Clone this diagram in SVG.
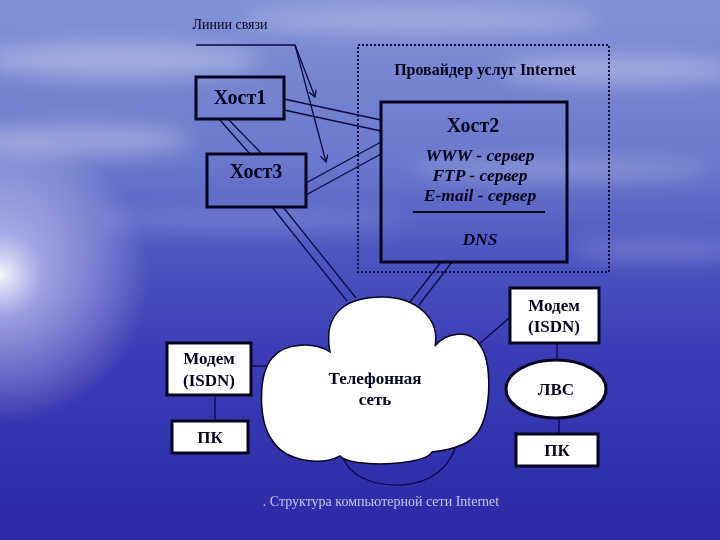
<svg xmlns="http://www.w3.org/2000/svg" width="720" height="540" viewBox="0 0 720 540">
<defs>
<linearGradient id="bg" x1="0" y1="0" x2="0" y2="1">
<stop offset="0" stop-color="#8391d6"/>
<stop offset="0.3" stop-color="#6b78cc"/>
<stop offset="0.48" stop-color="#4c54c0"/>
<stop offset="0.65" stop-color="#3c3db6"/>
<stop offset="1" stop-color="#2b29a6"/>
</linearGradient>
<radialGradient id="glow" cx="0" cy="275" r="150" gradientUnits="userSpaceOnUse">
<stop offset="0" stop-color="#ffffff" stop-opacity="0.95"/>
<stop offset="0.3" stop-color="#dfe3ff" stop-opacity="0.55"/>
<stop offset="1" stop-color="#ffffff" stop-opacity="0"/>
</radialGradient>
<filter id="blur" x="-20%" y="-50%" width="140%" height="200%"><feGaussianBlur stdDeviation="10"/></filter>
<filter id="soft"><feGaussianBlur stdDeviation="0.6"/></filter>
<marker id="arr" markerWidth="8" markerHeight="8" refX="7" refY="4" orient="auto" markerUnits="userSpaceOnUse">
<path d="M0,0 L7,4 L0,8" fill="none" stroke="#0a0a40" stroke-width="1.3"/>
</marker>
<style>
.t{font-family:"Liberation Serif","Times New Roman",serif;fill:#050520;text-anchor:middle}
.b{font-weight:bold}
.bi{font-weight:bold;font-style:italic}
.box{fill:none;stroke:#050520;stroke-width:3}
.wbox{fill:#ffffff;stroke:#050520;stroke-width:3}
.ln{stroke:#0a0a40;stroke-width:1.3;fill:none}
</style>
</defs>

<!-- background -->
<rect width="720" height="540" fill="url(#bg)"/>
<g filter="url(#blur)" fill="#ffffff">
<ellipse cx="120" cy="60" rx="140" ry="18" opacity="0.3"/>
<ellipse cx="420" cy="20" rx="180" ry="14" opacity="0.25"/>
<ellipse cx="620" cy="70" rx="120" ry="14" opacity="0.3"/>
<ellipse cx="80" cy="140" rx="110" ry="16" opacity="0.3"/>
<ellipse cx="560" cy="170" rx="150" ry="12" opacity="0.2"/>
<ellipse cx="250" cy="220" rx="160" ry="10" opacity="0.15"/>
<ellipse cx="660" cy="250" rx="90" ry="10" opacity="0.2"/>
</g>
<rect width="720" height="540" fill="url(#glow)"/>

<!-- connectors -->
<g id="connectors">
<polyline class="ln" points="196,45 295,45 315,97" marker-end="url(#arr)"/>
<line class="ln" x1="295" y1="45" x2="326" y2="162" marker-end="url(#arr)"/>
<line class="ln" x1="284" y1="99" x2="381" y2="120"/>
<line class="ln" x1="284" y1="110" x2="381" y2="131"/>
<line class="ln" x1="306" y1="183" x2="381" y2="142"/>
<line class="ln" x1="306" y1="195" x2="381" y2="154"/>
<line class="ln" x1="219" y1="119" x2="250" y2="154"/>
<line class="ln" x1="228" y1="119" x2="262" y2="154"/>
<line class="ln" x1="272" y1="207" x2="347" y2="301"/>
<line class="ln" x1="283" y1="207" x2="356" y2="298"/>
<line class="ln" x1="441" y1="262" x2="410" y2="302"/>
<line class="ln" x1="452" y1="262" x2="419" y2="305"/>
<line class="ln" x1="251" y1="366" x2="266" y2="366"/>
<line class="ln" x1="215" y1="395" x2="215" y2="421"/>
<line class="ln" x1="509" y1="318" x2="478" y2="345"/>
<line class="ln" x1="557" y1="343" x2="557" y2="360"/>
<line class="ln" x1="559" y1="419" x2="559" y2="434"/>
<path class="ln" d="M342,455 C350,480 380,486 402,485 C430,483 452,468 457,440"/>
</g>

<text class="t" x="230" y="29" font-size="14" fill="#101040">Линии связи</text>

<g id="provider">
<rect x="358" y="45" width="251" height="227" fill="none" stroke="#101040" stroke-width="2" stroke-dasharray="2,2"/>
<text class="t b" x="485" y="75" font-size="16">Провайдер услуг Internet</text>
</g>

<g id="host1">
<rect class="box" x="196" y="77" width="88" height="42"/>
<text class="t b" x="240" y="104" font-size="20">Хост1</text>
</g>

<g id="host3">
<rect class="box" x="207" y="154" width="99" height="53"/>
<text class="t b" x="256" y="178" font-size="20">Хост3</text>
</g>

<g id="host2">
<rect class="box" x="381" y="102" width="186" height="160"/>
<text class="t b" x="473" y="132" font-size="20">Хост2</text>
<text class="t bi" x="480" y="161" font-size="17.5">WWW - сервер</text>
<text class="t bi" x="480" y="181" font-size="17.5">FTP - сервер</text>
<text class="t bi" x="480" y="201" font-size="17.5">E-mail - сервер</text>
<line x1="413" y1="212" x2="545" y2="212" stroke="#050520" stroke-width="2"/>
<text class="t bi" x="480" y="245" font-size="17.5">DNS</text>
</g>

<g id="cloud">
<path d="M330,352 C322,310 350,297 382,297 C418,297 440,320 435,346 C445,333 470,328 480,345 C492,362 492,410 478,432 C470,445 450,450 432,452 C425,466 350,468 340,456 C322,466 285,462 272,440 C258,420 258,375 272,358 C285,342 315,342 330,352 Z" fill="#ffffff" stroke="#050520" stroke-width="1.5"/>
<text class="t b" x="375" y="384" font-size="17">Телефонная</text>
<text class="t b" x="375" y="405" font-size="17">сеть</text>
</g>

<g id="modem-left">
<rect class="wbox" x="167" y="343" width="84" height="52"/>
<text class="t b" x="209" y="364" font-size="17">Модем</text>
<text class="t b" x="209" y="386" font-size="17">(ISDN)</text>
</g>

<g id="pc-left">
<rect class="wbox" x="172" y="421" width="76" height="32"/>
<text class="t b" x="210" y="443" font-size="17">ПК</text>
</g>

<g id="modem-right">
<rect class="wbox" x="510" y="288" width="89" height="55"/>
<text class="t b" x="554" y="311" font-size="17">Модем</text>
<text class="t b" x="554" y="332" font-size="17">(ISDN)</text>
</g>

<g id="lan">
<ellipse cx="556" cy="389" rx="50" ry="29" fill="#ffffff" stroke="#050520" stroke-width="3"/>
<text class="t b" x="556" y="395" font-size="17">ЛВС</text>
</g>

<g id="pc-right">
<rect class="wbox" x="516" y="434" width="82" height="32"/>
<text class="t b" x="557" y="456" font-size="17">ПК</text>
</g>

<text class="t" x="381" y="506" font-size="14" style="fill:#c4c7e6" filter="url(#soft)">. Структура компьютерной сети Internet</text>
</svg>
